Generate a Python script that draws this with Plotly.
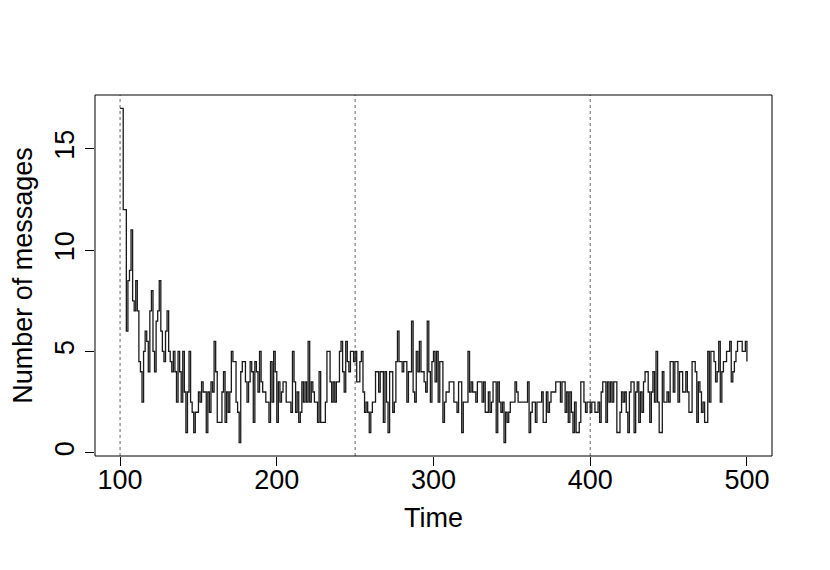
import plotly.graph_objects as go

# Time index 100..500 and number of messages per time step
t_start = 100
t_end = 500

seg_a = [17, 17, 12, 12, 6, 8.5, 9, 11, 7.5, 7, 8.5, 7, 4.5, 4, 2.5, 5, 6, 5.5, 4, 7,
         8, 5, 4, 6.5, 7, 8.5, 6, 5, 4.5, 6, 7, 5, 4.5, 4, 5, 4, 2.5, 5, 4, 2.5,
         5, 3, 1, 3, 5]
seg_b = [2.5, 2, 1, 2, 2, 3, 2.5, 3.5, 3, 3, 1, 3, 2, 3.5, 3, 5.5, 4, 1.5, 1.5, 1.5,
         3, 4, 1.5, 3, 2, 3, 5, 4.5, 4.5, 2.5, 2, 0.5, 4, 4.5, 4.5, 3.5, 2.5, 3.5, 4.5, 4,
         1.5, 4.5, 4, 3, 5, 3.5, 3, 3]
seg_c = [2.5, 2.5, 1.5, 4.5, 2.5, 5, 4, 1.5, 3.5, 2.5, 3, 3.5, 3.5, 2.5, 2.5, 2.5, 2, 5, 3.5, 2,
         3, 1.5, 2, 3.5, 2.5, 3.5, 2.5, 5.5, 2.5, 3.5, 3, 2.5, 2.5, 1.5, 4, 1.5, 1.5, 1.5, 2.5, 5,
         5, 3.5, 2.5, 3.5, 2.5, 3.5, 3.5, 5]
seg_d = [5.5, 4, 3, 5.5, 4.5, 4, 5, 5, 4.5, 5, 3.5, 3.5, 4.5, 5, 3, 2, 2.5, 2, 1, 2,
         2.5, 2.5, 4, 4, 3, 4, 4, 1.5, 4, 2.5, 1, 4, 4, 2, 2.5, 4.5, 6, 4.5, 4.5, 4,
         4.5, 4.5, 2.5, 4, 4, 6.5, 3, 2.5]
seg_e = [5, 4, 5.5, 4, 4, 3.5, 3, 6.5, 4, 2.5, 4.5, 5, 3.5, 5, 2.5, 4.5, 4.5, 1.5, 2.5, 3,
         3, 3.5, 3.5, 3.5, 2.5, 2.5, 2, 3.5, 3.5, 1, 2.5, 2.5, 2.5, 5, 3, 3.5, 3, 3, 2.5, 3.5,
         3.5, 3.5, 2.5, 3.5, 2, 2, 3, 2]
seg_f = [2.5, 3.5, 3.5, 1, 3.5, 2.5, 2, 2.5, 0.5, 2, 1.5, 2, 2.5, 2.5, 2.5, 3.5, 3, 2.5, 2.5, 2.5,
         2.5, 2.5, 2.5, 3.5, 1, 2, 2.5, 2.5, 1.5, 2.5, 2.5, 2.5, 3, 1.5, 1.5, 3, 2, 2.5, 3, 3,
         3, 3.5, 3.5, 3.5, 2.5, 3.5, 3.5, 2]
seg_g = [3, 1.5, 3, 2, 1, 2.5, 1, 1, 1.5, 3.5, 3.5, 2.5, 2, 2.5, 2.5, 2, 2.5, 2.5, 2, 2,
         2.5, 1.5, 3, 3.5, 3.5, 1.5, 3.5, 2.5, 3.5, 2.5, 3.5, 3.5, 1, 1, 2, 3, 2.5, 3, 2, 1,
         3, 3.5, 3.5, 1, 3, 3.5, 1.5, 3]
seg_h = [2, 3.5, 4, 4, 3, 1.5, 3, 4, 2.5, 5, 2.5, 1, 1, 4, 2.5, 2.5, 3, 2.5, 4.5, 4.5,
         3, 4.5, 4.5, 2.5, 4, 4, 3, 3, 4, 3, 2, 2, 4.5, 4.5, 4, 1.5, 3.5, 3, 2, 2.5,
         1.5, 1.5, 5, 2.5, 5, 5, 4.5, 3.5]
seg_i = [4, 5.5, 2.5, 4, 4.5, 4.5, 5, 5, 5.5, 3.5, 4, 4.5, 5, 5.5, 5.5, 5.5, 5, 5, 5.5, 4.5]

messages = seg_a + seg_b + seg_c + seg_d + seg_e + seg_f + seg_g + seg_h + seg_i
time = list(range(t_start, t_start + len(messages)))

x_ticks = [100, 200, 300, 400, 500]
y_ticks = [0, 5, 10, 15]
change_points = [100, 250, 400]

x_title = "Time"
y_title = "Number of messages"

FONT = "Liberation Sans, Arial, Helvetica, sans-serif"

fig = go.Figure()
fig.add_trace(go.Scatter(
    x=time, y=messages, mode="lines", line_shape="hv",
    line=dict(color="#1a1a1a", width=1.3), showlegend=False, hoverinfo="skip"))

for cp in change_points:
    fig.add_shape(type="line", xref="x", yref="paper", x0=cp, x1=cp, y0=0, y1=1,
                  line=dict(color="#666666", width=1, dash="dot"), layer="below")

# plot box
fig.add_shape(type="rect", xref="paper", yref="paper", x0=0, x1=1, y0=0, y1=1,
              line=dict(color="black", width=1), fillcolor="rgba(0,0,0,0)")

fig.update_layout(
    width=830, height=570,
    margin=dict(l=87, r=66, t=87, b=122),
    paper_bgcolor="white", plot_bgcolor="white",
    font=dict(family=FONT, size=27, color="black"),
    xaxis=dict(range=[84, 516], tickvals=x_ticks, ticks="outside", ticklen=9,
               tickwidth=1, tickcolor="black", showgrid=False, zeroline=False,
               showline=False, automargin=False, ticklabelstandoff=-9,
               tickfont=dict(size=27),
               title=dict(text=x_title, font=dict(size=27), standoff=13)),
    yaxis=dict(range=[-0.16, 17.66], tickvals=y_ticks, ticks="outside", ticklen=9,
               tickwidth=1, tickcolor="black", showgrid=False, zeroline=False,
               showline=False, automargin=False, tickangle=-90,
               tickfont=dict(size=27),
               title=dict(text=y_title, font=dict(size=27), standoff=9)),
)

fig.write_html("out.html")
